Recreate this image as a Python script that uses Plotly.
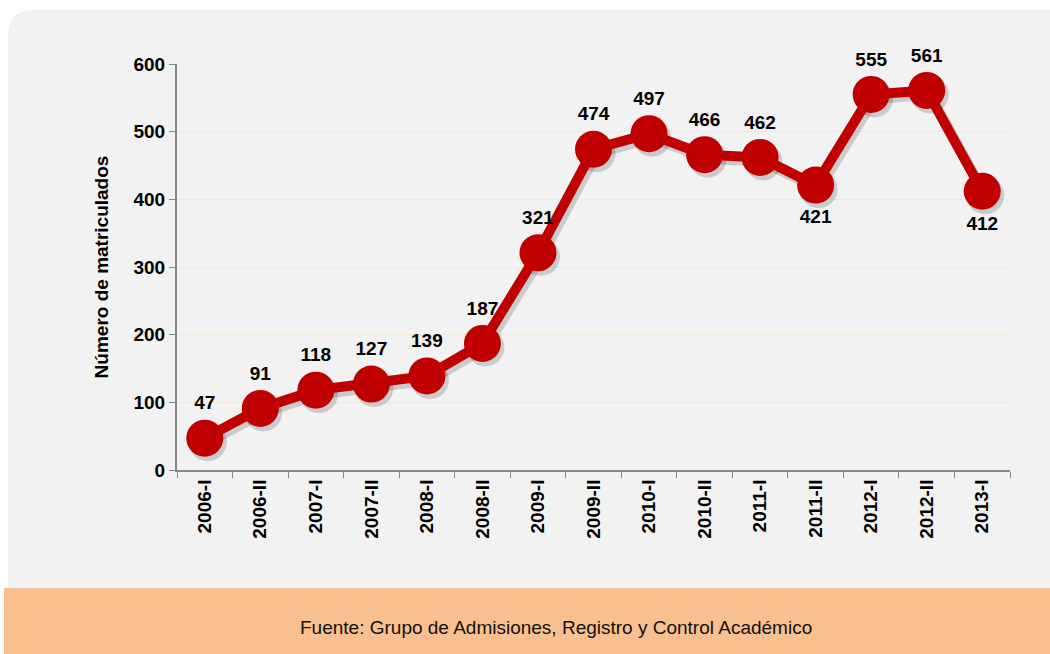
import plotly.graph_objects as go

# Data
periodos = ['2006-I', '2006-II', '2007-I', '2007-II', '2008-I', '2008-II', '2009-I',
            '2009-II', '2010-I', '2010-II', '2011-I', '2011-II', '2012-I', '2012-II', '2013-I']
matriculados = [47, 91, 118, 127, 139, 187, 321, 474, 497, 466, 462, 421, 555, 561, 412]
posicion_etiqueta = ['top center'] * 11 + ['bottom center', 'top center', 'top center', 'bottom center']

W, H = 1050, 654
L, R, T, B = 177, 40, 64, 184
pw, ph = W - L - R, H - T - B

def px_x(p):
    return (p - L) / pw

def px_y(p):
    return (H - B - p) / ph

font_bold = "Liberation Sans, Arial"
red = '#c00000'

fig = go.Figure()

# invisible trace so the base axes (ticks, grid) are drawn
fig.add_trace(go.Scatter(
    x=periodos, y=matriculados, mode='lines', opacity=0,
    line=dict(width=0), hoverinfo='skip', showlegend=False
))

# soft shadow under line and markers (drawn on offset overlay axes)
fig.add_trace(go.Scatter(
    x=periodos, y=matriculados, mode='lines+markers',
    line=dict(color='rgba(0,0,0,0.16)', width=11),
    marker=dict(size=38, color='rgba(0,0,0,0.16)'),
    xaxis='x2', yaxis='y2', hoverinfo='skip', showlegend=False
))

fig.add_trace(go.Scatter(
    x=periodos, y=matriculados, mode='lines+markers+text',
    line=dict(color=red, width=10),
    marker=dict(size=37, color=red),
    text=[str(v) for v in matriculados],
    textposition=posicion_etiqueta,
    textfont=dict(family=font_bold, size=19, color='black', weight='bold'),
    cliponaxis=False,
    xaxis='x3', yaxis='y3',
    showlegend=False
))

dx = 3 / (pw / len(periodos))
dy = 4 * 600 / ph

# background panel with rounded top-left corner
x0, x1 = px_x(8), px_x(1052)
y0, y1 = px_y(590), px_y(10)
rx, ry = 26 / pw, 26 / ph
panel_path = (f"M {x0},{y0} L {x0},{y1 - ry} Q {x0},{y1} {x0 + rx},{y1} "
              f"L {x1},{y1} L {x1},{y0} Z")

fig.update_layout(
    width=W, height=H,
    margin=dict(l=L, r=R, t=T, b=B),
    paper_bgcolor='white',
    plot_bgcolor='rgba(0,0,0,0)',
    shapes=[
        dict(type='path', path=panel_path, xref='paper', yref='paper',
             fillcolor='#f2f2f2', line=dict(width=0), layer='below'),
        dict(type='rect', xref='paper', yref='paper',
             x0=px_x(4), x1=px_x(1052), y0=px_y(656), y1=px_y(588),
             fillcolor='#f9c08f', line=dict(width=0), layer='below'),
    ],
    annotations=[
        dict(text='Fuente: Grupo de Admisiones, Registro y Control Académico',
             xref='paper', yref='paper', x=px_x(556), y=px_y(627),
             showarrow=False, xanchor='center', yanchor='middle',
             font=dict(family="Liberation Sans, Arial", size=19, color='#111111')),
    ],
    xaxis=dict(
        type='category', categoryarray=periodos, range=[-0.5, 14.5],
        tickangle=-90, tickson='boundaries', ticks='outside', ticklen=6,
        tickcolor='#878787', showline=True, linecolor='#878787', linewidth=2,
        showgrid=False,
        tickfont=dict(family=font_bold, size=19, color='black', weight='bold'),
    ),
    yaxis=dict(
        range=[0, 600], dtick=100, ticks='outside', ticklen=6,
        tickcolor='#878787', showline=True, linecolor='#878787', linewidth=2,
        gridcolor='#efe8da', gridwidth=1, zeroline=False,
        tickfont=dict(family=font_bold, size=19, color='black', weight='bold'),
        title=dict(text='Número de matriculados', standoff=20,
                   font=dict(family=font_bold, size=19, color='black', weight='bold')),
    ),
    xaxis2=dict(type='category', overlaying='x', range=[-0.5 - dx, 14.5 - dx],
                visible=False),
    yaxis2=dict(overlaying='y', range=[dy, 600 + dy], visible=False),
    xaxis3=dict(type='category', overlaying='x', range=[-0.5, 14.5], visible=False),
    yaxis3=dict(overlaying='y', range=[0, 600], visible=False),
)

fig.write_html("out.html", config={'displayModeBar': False},
               post_script="document.body.style.margin='0';")
